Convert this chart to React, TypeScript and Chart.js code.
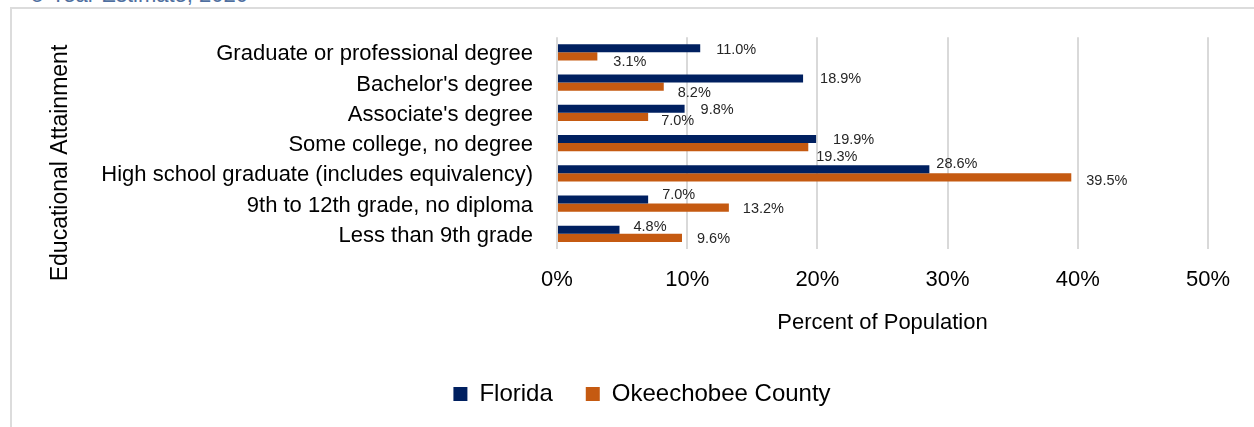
import React, { useEffect, useRef } from "react";
import { Chart, registerables } from "chart.js";

Chart.register(...registerables);

const categories = [
  "Graduate or professional degree",
  "Bachelor's degree",
  "Associate's degree",
  "Some college, no degree",
  "High school graduate (includes equivalency)",
  "9th to 12th grade, no diploma",
  "Less than 9th grade",
];
const floridaValues = [11.0, 18.9, 9.8, 19.9, 28.6, 7.0, 4.8];
const okeechobeeValues = [3.1, 8.2, 7.0, 19.3, 39.5, 13.2, 9.6];
const seriesNames = ["Florida", "Okeechobee County"];
const xTickMin = 0;
const xTickMax = 50;
const xTickStep = 10;
const xAxisTitle = "Percent of Population";
const yAxisTitle = "Educational Attainment";
const headerText = "5-Year Estimate, 2020";

// label placement styling (pixel nudges from bar end / bar centre), per series
const labelNudgeX = [
  [16, 17, 16, 17, 7, 14, 14],
  [16, 14, 13, 8, 15, 14, 15],
];
const labelNudgeY = [
  [2, 0, 1, 1, -5, -5, -3],
  [5.5, 6, 4, 10, 4, 1, 1],
];

const FONT = '"Liberation Sans", Arial, Helvetica, sans-serif';
const NAVY = "#002060";
const ORANGE = "#C55A11";

const dataLabelPlugin = {
  id: "barValueLabels",
  afterDatasetsDraw(chart: any) {
    const ctx = chart.ctx;
    ctx.save();
    ctx.font = `14.5px ${FONT}`;
    ctx.fillStyle = "#262626";
    ctx.textAlign = "left";
    ctx.textBaseline = "middle";
    chart.data.datasets.forEach((ds: any, di: number) => {
      const meta = chart.getDatasetMeta(di);
      meta.data.forEach((el: any, i: number) => {
        const v = ds.data[i];
        const txt = v.toFixed(1) + "%";
        ctx.fillText(txt, el.x + labelNudgeX[di][i], el.y + labelNudgeY[di][i]);
      });
    });
    ctx.restore();
  },
};

const yTitlePlugin = {
  id: "yTitle",
  afterDraw(chart: any) {
    const ctx = chart.ctx;
    ctx.save();
    ctx.translate(61, 163);
    ctx.rotate(-Math.PI / 2);
    ctx.font = `23px ${FONT}`;
    ctx.fillStyle = "#000";
    ctx.textAlign = "center";
    ctx.textBaseline = "middle";
    ctx.fillText(yAxisTitle, 0, 0);
    ctx.restore();
  },
};

export default function App() {
  const canvasRef = useRef<HTMLCanvasElement | null>(null);

  useEffect(() => {
    if (!canvasRef.current) return;
    Chart.defaults.font.family = FONT;
    const chart = new Chart(canvasRef.current, {
      type: "bar",
      data: {
        labels: categories,
        datasets: [
          {
            label: seriesNames[0],
            data: floridaValues,
            backgroundColor: NAVY,
            borderWidth: 0,
            categoryPercentage: 0.535,
            barPercentage: 1.0,
          },
          {
            label: seriesNames[1],
            data: okeechobeeValues,
            backgroundColor: ORANGE,
            borderWidth: 0,
            categoryPercentage: 0.535,
            barPercentage: 1.0,
          },
        ],
      },
      options: {
        indexAxis: "y",
        responsive: false,
        animation: false,
        devicePixelRatio: 1,
        layout: { padding: { top: 36, right: 46, left: 76, bottom: 11 } },
        plugins: {
          legend: {
            position: "bottom",
            labels: {
              font: { size: 24, family: FONT },
              color: "#000",
              boxWidth: 14,
              boxHeight: 14,
              padding: 33,
            },
          },
          tooltip: { enabled: false },
        },
        scales: {
          x: {
            min: xTickMin,
            max: xTickMax,
            ticks: {
              stepSize: xTickStep,
              padding: 18,
              color: "#000",
              font: { size: 22, family: FONT },
              callback: (v: any) => v + "%",
            },
            grid: { color: "#d9d9d9", lineWidth: 2, drawTicks: false },
            border: { display: false },
            title: {
              display: true,
              text: xAxisTitle,
              color: "#000",
              font: { size: 22, family: FONT },
              padding: { top: 0, bottom: 13 },
            },
            afterFit: (s: any) => {
              s.height = 100;
            },
          },
          y: {
            ticks: {
              padding: 24,
              autoSkip: false,
              labelOffset: 2,
              color: "#000",
              font: { size: 22, family: FONT },
            },
            grid: { display: false, drawTicks: false },
            border: { display: false },
            afterFit: (s: any) => {
              s.width = 557 - 76;
            },
          },
        },
      },
      plugins: [dataLabelPlugin, yTitlePlugin],
    } as any);
    return () => chart.destroy();
  }, []);

  return (
    <div
      style={{
        position: "absolute",
        left: 0,
        top: 0,
        width: 1254,
        height: 427,
        overflow: "hidden",
        background: "#fff",
      }}
    >
      <div
        style={{
          position: "absolute",
          left: 0,
          top: -16.5,
          width: 248,
          textAlign: "right",
          whiteSpace: "nowrap",
          font: `22px ${FONT}`,
          lineHeight: "22px",
          color: "#4f6fa0",
        }}
      >
        {headerText}
      </div>
      <div
        style={{
          position: "absolute",
          left: 10,
          top: 7,
          width: 1400,
          height: 600,
          borderLeft: "2px solid #dcdcdc",
          borderTop: "2px solid #dcdcdc",
        }}
      />
      <canvas
        ref={canvasRef}
        width={1254}
        height={427}
        style={{ position: "absolute", left: 0, top: 0, width: 1254, height: 427 }}
      />
    </div>
  );
}
